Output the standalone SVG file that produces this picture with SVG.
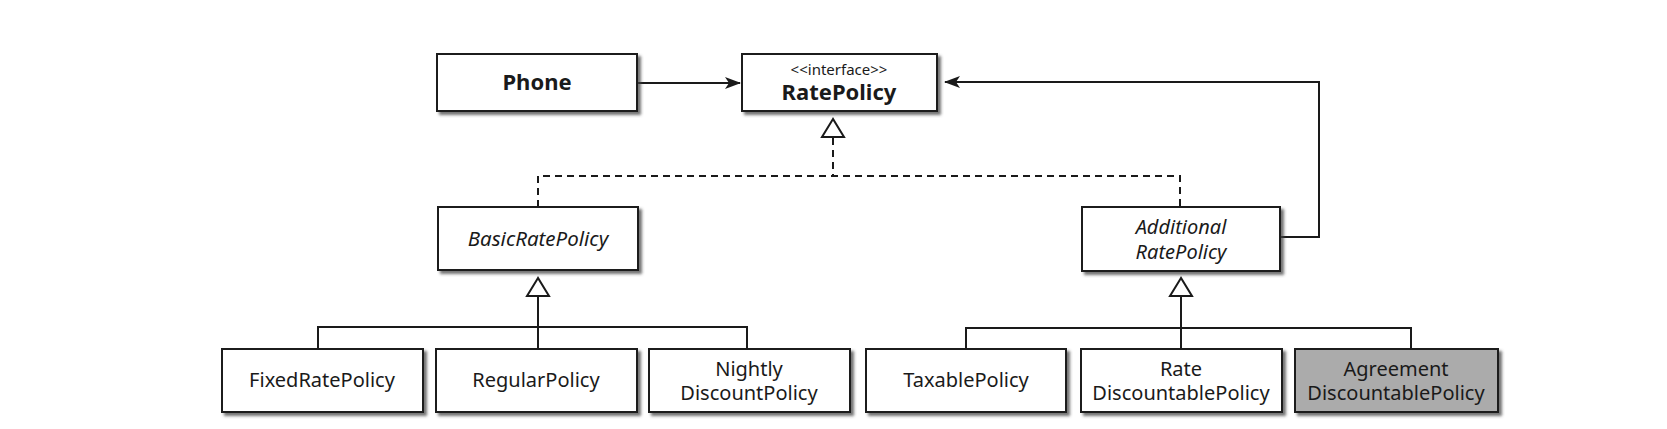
<svg xmlns="http://www.w3.org/2000/svg" width="1667" height="429" viewBox="0 0 1667 429">
<style>
.box{fill:#fff;stroke:#1a1a1a;stroke-width:2;filter:url(#sh)}
.gray{fill:#ababab}
.t{font-family:"Noto Sans","Open Sans","DejaVu Sans",sans-serif;font-size:20px;fill:#1a1a1a;text-anchor:middle}
.b{font-weight:bold;font-size:22px}
.i{font-style:italic}
.s{font-size:15px}
.ln{fill:none;stroke:#1a1a1a;stroke-width:2}
.d{stroke-dasharray:7 5}
.tri{fill:#fff;stroke:#1a1a1a;stroke-width:2}
</style>
<defs>
<filter id="sh" x="-5%" y="-10%" width="115%" height="130%">
<feDropShadow dx="3" dy="3" stdDeviation="1.5" flood-color="#444" flood-opacity="0.75"/>
</filter>
<marker id="arr" markerWidth="16" markerHeight="12" refX="15" refY="6" orient="auto" markerUnits="userSpaceOnUse">
<path d="M0,0 L16,6 L0,12 L4,6 z" fill="#1a1a1a"/>
</marker>
</defs>
<rect width="1667" height="429" fill="#fff"/>
<g id="connectors">
<line class="ln" x1="637" y1="83" x2="740" y2="83" marker-end="url(#arr)"/>
<polyline class="ln" points="1280,237 1319,237 1319,82 945,82" marker-end="url(#arr)"/>
<polyline class="ln d" points="833,138 833,176"/>
<polyline class="ln d" points="538,207 538,176 1180,176 1180,207"/>
<polygon class="tri" points="833,119 822,137 844,137"/>
<polyline class="ln" points="318,349 318,327 747,327 747,349"/>
<line class="ln" x1="538" y1="297" x2="538" y2="349"/>
<polygon class="tri" points="538,278 527,296 549,296"/>
<polyline class="ln" points="966,349 966,328 1411,328 1411,349"/>
<line class="ln" x1="1181" y1="297" x2="1181" y2="349"/>
<polygon class="tri" points="1181,278 1170,296 1192,296"/>
</g>
<g id="phone"><rect class="box" x="437" y="54" width="200" height="57"/><text class="t b" x="537" y="90">Phone</text></g>
<g id="ratepolicy"><rect class="box" x="742" y="54" width="195" height="57"/><text class="t s" x="839" y="75">&lt;&lt;interface&gt;&gt;</text><text class="t b" x="839" y="100">RatePolicy</text></g>
<g id="basic"><rect class="box" x="438" y="207" width="200" height="63"/><text class="t i" x="538" y="246" style="font-size:20.5px">BasicRatePolicy</text></g>
<g id="additional"><rect class="box" x="1082" y="207" width="198" height="64"/><text class="t i" x="1181" y="234">Additional</text><text class="t i" x="1181" y="259">RatePolicy</text></g>
<g id="fixed"><rect class="box" x="222" y="349" width="201" height="63"/><text class="t" x="322" y="387">FixedRatePolicy</text></g>
<g id="regular"><rect class="box" x="436" y="349" width="201" height="63"/><text class="t" x="536" y="387">RegularPolicy</text></g>
<g id="nightly"><rect class="box" x="649" y="349" width="201" height="63"/><text class="t" x="749" y="376">Nightly</text><text class="t" x="749" y="400">DiscountPolicy</text></g>
<g id="taxable"><rect class="box" x="866" y="349" width="200" height="63"/><text class="t" x="966" y="387">TaxablePolicy</text></g>
<g id="ratediscount"><rect class="box" x="1081" y="349" width="201" height="63"/><text class="t" x="1181" y="376">Rate</text><text class="t" x="1181" y="400">DiscountablePolicy</text></g>
<g id="agreement"><rect class="box gray" x="1295" y="349" width="203" height="63"/><text class="t" x="1396" y="376">Agreement</text><text class="t" x="1396" y="400">DiscountablePolicy</text></g>
</svg>
